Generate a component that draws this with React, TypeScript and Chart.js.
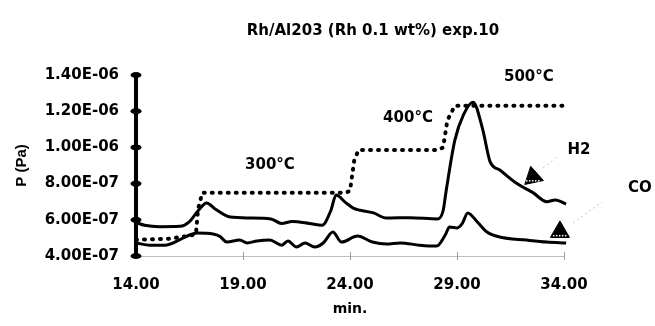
import React, { useEffect, useRef } from 'react';
import { Chart, registerables } from 'chart.js';

Chart.register(...registerables);

// ---- text ----
const TITLE = 'Rh/Al203 (Rh 0.1 wt%) exp.10';
const X_TITLE = 'min.';
const Y_TITLE = 'P (Pa)';

// ---- axis ticks ----
const X_TICKS = [14, 19, 24, 29, 34];
const Y_TICKS = [4e-7, 6e-7, 8e-7, 1e-6, 1.2e-6, 1.4e-6];

// ---- H2 trace ----
const h2Time = [14.0, 14.4, 15.1, 16.05, 16.5, 16.9, 17.3, 17.7, 18.4, 19.3, 20.3, 20.8, 21.3, 22.1, 22.7, 23.1, 23.35, 23.8, 24.15, 25.1, 25.7, 26.8, 28.1, 28.35, 28.5, 28.9, 29.3, 29.75, 30.2, 30.55, 31.0, 31.8, 32.55, 33.2, 33.6, 34.1];
const h2P = [5.85e-7, 5.7e-7, 5.62e-7, 5.64e-7, 5.9e-7, 6.5e-7, 6.93e-7, 6.6e-7, 6.15e-7, 6.1e-7, 6.05e-7, 5.8e-7, 5.9e-7, 5.8e-7, 5.7e-7, 6.5e-7, 7.37e-7, 6.95e-7, 6.65e-7, 6.38e-7, 6.1e-7, 6.12e-7, 6.05e-7, 6.5e-7, 7.65e-7, 1.04e-6, 1.18e-6, 1.25e-6, 1.1e-6, 9.2e-7, 8.75e-7, 8.0e-7, 7.5e-7, 7.0e-7, 7.1e-7, 6.87e-7];

// ---- CO trace ----
const coTime = [14.0, 14.65, 15.35, 16.05, 16.5, 16.85, 17.6, 17.9, 18.25, 18.85, 19.2, 19.65, 20.25, 20.8, 21.1, 21.5, 21.9, 22.35, 22.75, 23.2, 23.6, 24.35, 25.05, 25.7, 26.35, 27.25, 28.05, 28.45, 28.65, 29.0, 29.25, 29.5, 29.95, 30.4, 31.0, 32.25, 33.2, 34.1];
const coP = [4.72e-7, 4.6e-7, 4.6e-7, 4.9e-7, 5.16e-7, 5.27e-7, 5.22e-7, 5.1e-7, 4.77e-7, 4.88e-7, 4.72e-7, 4.83e-7, 4.88e-7, 4.6e-7, 4.83e-7, 4.5e-7, 4.72e-7, 4.5e-7, 4.72e-7, 5.33e-7, 4.77e-7, 5.1e-7, 4.77e-7, 4.66e-7, 4.72e-7, 4.6e-7, 4.55e-7, 5.16e-7, 5.6e-7, 5.55e-7, 5.8e-7, 6.38e-7, 5.88e-7, 5.33e-7, 5.05e-7, 4.88e-7, 4.77e-7, 4.72e-7];

// ---- temperature steps (dotted) ----
const tempTime = [14.0, 15.5, 16.4, 16.8, 16.9, 17.1, 23.8, 24.0, 24.2, 24.4, 28.1, 28.35, 28.55, 28.9, 34.1];
const tempP = [4.9e-7, 4.95e-7, 5.1e-7, 5.2e-7, 6.6e-7, 7.5e-7, 7.5e-7, 7.6e-7, 9.3e-7, 9.85e-7, 9.85e-7, 1.0e-6, 1.15e-6, 1.23e-6, 1.23e-6];

// ---- series markers (triangles) ----
const markerTime = [32.55, 33.81];
const markerP = [8.36e-7, 5.33e-7];

// ---- annotation texts (value-space anchors) ----
const annoText = ['300°C', '400°C', '500°C', 'H2', 'CO'];
const annoTime = [20.26, 26.71, 32.36, 34.7, 37.55];
const annoP = [9.03e-7, 1.162e-6, 1.389e-6, 9.86e-7, 7.76e-7];

// ---- leader lines from labels to markers ----
const leaderFrom = [[33.02, 8.86e-7], [34.42, 5.82e-7]];
const leaderTo = [[33.67, 9.47e-7], [35.78, 6.98e-7]];

const FONT = "'DejaVu Sans', 'Liberation Sans', Arial, sans-serif";

function sci(v: number): string {
  const [m, e] = v.toExponential(2).split('e');
  const n = parseInt(e, 10);
  const sign = n < 0 ? '-' : '+';
  return `${m}E${sign}${String(Math.abs(n)).padStart(2, '0')}`;
}

const zip = (xs: number[], ys: number[]) => xs.map((x, i) => ({ x, y: ys[i] }));

const decorPlugin = {
  id: 'decor',
  afterDatasetsDraw(chart: any) {
    const { ctx, chartArea } = chart;
    const xs = chart.scales.x;
    const ys = chart.scales.y;
    ctx.save();

    // y-axis tick caps crossing the axis
    ctx.fillStyle = '#000';
    for (const v of Y_TICKS) {
      const py = ys.getPixelForValue(v);
      ctx.beginPath();
      ctx.ellipse(chartArea.left, py, 5.5, 3, 0, 0, Math.PI * 2);
      ctx.fill();
    }

    // faint x-axis tick marks crossing the axis
    ctx.strokeStyle = '#9a9a9a';
    ctx.lineWidth = 1;
    for (const v of X_TICKS.slice(1)) {
      const px = Math.round(xs.getPixelForValue(v)) + 0.5;
      ctx.beginPath();
      ctx.moveTo(px, chartArea.bottom - 4);
      ctx.lineTo(px, chartArea.bottom + 4);
      ctx.stroke();
    }

    // leader lines
    ctx.strokeStyle = '#c4c4c4';
    ctx.setLineDash([2, 3]);
    for (let i = 0; i < leaderFrom.length; i++) {
      ctx.beginPath();
      ctx.moveTo(xs.getPixelForValue(leaderFrom[i][0]), ys.getPixelForValue(leaderFrom[i][1]));
      ctx.lineTo(xs.getPixelForValue(leaderTo[i][0]), ys.getPixelForValue(leaderTo[i][1]));
      ctx.stroke();
    }
    ctx.setLineDash([]);

    // hatching band inside the triangle markers
    ctx.fillStyle = '#fff';
    for (let i = 0; i < markerTime.length; i++) {
      const px = xs.getPixelForValue(markerTime[i]);
      const py = ys.getPixelForValue(markerP[i]);
      for (let k = -7; k <= 6; k += 3) {
        ctx.fillRect(px + k, py + 3, 1.5, 1.5);
      }
    }

    // annotation texts
    ctx.fillStyle = '#000';
    ctx.font = `bold 15px ${FONT}`;
    ctx.textAlign = 'center';
    ctx.textBaseline = 'middle';
    for (let i = 0; i < annoText.length; i++) {
      ctx.fillText(annoText[i], xs.getPixelForValue(annoTime[i]), ys.getPixelForValue(annoP[i]));
    }

    // chart title
    ctx.font = `bold 15px ${FONT}`;
    ctx.fillText(TITLE, (chartArea.left + chartArea.right) / 2 + 23, 31);

    ctx.restore();
  },
};

export default function App() {
  const ref = useRef<HTMLCanvasElement>(null);

  useEffect(() => {
    const canvas = ref.current;
    if (!canvas) return;
    const chart = new Chart(canvas, {
      type: 'line',
      data: {
        datasets: [
          {
            label: 'T',
            data: zip(tempTime, tempP),
            borderColor: '#000',
            borderWidth: 4,
            borderDash: [1, 7],
            borderCapStyle: 'round',
            pointRadius: 0,
            tension: 0,
            clip: false,
          } as any,
          {
            label: 'H2',
            data: zip(h2Time, h2P),
            borderColor: '#000',
            borderWidth: 3,
            pointRadius: 0,
            cubicInterpolationMode: 'monotone',
            clip: false,
          },
          {
            label: 'CO',
            data: zip(coTime, coP),
            borderColor: '#000',
            borderWidth: 3,
            pointRadius: 0,
            cubicInterpolationMode: 'monotone',
            clip: false,
          },
          {
            type: 'scatter',
            label: 'markers',
            data: zip(markerTime, markerP),
            pointStyle: 'triangle',
            pointRadius: 11,
            pointRotation: [-12, 0],
            backgroundColor: '#000',
            borderColor: '#000',
            borderWidth: 1,
            showLine: false,
            clip: false,
          } as any,
        ],
      },
      options: {
        responsive: false,
        animation: false,
        events: [],
        layout: { padding: { top: 75, right: 91, left: 0, bottom: 0 } },
        plugins: {
          legend: { display: false },
          title: { display: false },
          tooltip: { enabled: false },
        },
        scales: {
          x: {
            type: 'linear',
            min: 14,
            max: 34,
            afterBuildTicks: (s: any) => {
              s.ticks = X_TICKS.map((value) => ({ value }));
            },
            afterFit: (s: any) => {
              s.height = 70;
            },
            grid: { display: false },
            border: { display: true, color: '#bdbdbd', width: 1, dash: [2, 3] },
            ticks: {
              padding: 12,
              color: '#000',
              font: { family: FONT, size: 15, weight: 'bold' },
              callback: (v: any) => Number(v).toFixed(2),
              maxRotation: 0,
            },
            title: {
              display: true,
              text: X_TITLE,
              color: '#000',
              font: { family: FONT, size: 14, weight: 'bold' },
              padding: { top: 0, bottom: 8 },
            },
          },
          y: {
            type: 'linear',
            min: 4e-7,
            max: 1.4e-6,
            afterBuildTicks: (s: any) => {
              s.ticks = Y_TICKS.map((value) => ({ value }));
            },
            afterFit: (s: any) => {
              s.width = 136;
            },
            grid: { display: false },
            border: { display: true, color: '#000', width: 4 },
            ticks: {
              padding: 9,
              color: '#000',
              font: { family: FONT, size: 15, weight: 'bold' },
              callback: (v: any) => sci(Number(v)),
            },
            title: {
              display: true,
              text: Y_TITLE,
              color: '#000',
              font: { family: "'Liberation Sans', Arial, sans-serif", size: 15, weight: 'bold' },
              padding: { top: 13, bottom: 0 },
            },
          },
        },
      },
      plugins: [decorPlugin],
    });
    return () => chart.destroy();
  }, []);

  return (
    <div style={{ position: 'fixed', left: 0, top: 0, width: 655, height: 326, background: '#fff' }}>
      <canvas ref={ref} width={655} height={326} style={{ display: 'block' }} />
    </div>
  );
}
